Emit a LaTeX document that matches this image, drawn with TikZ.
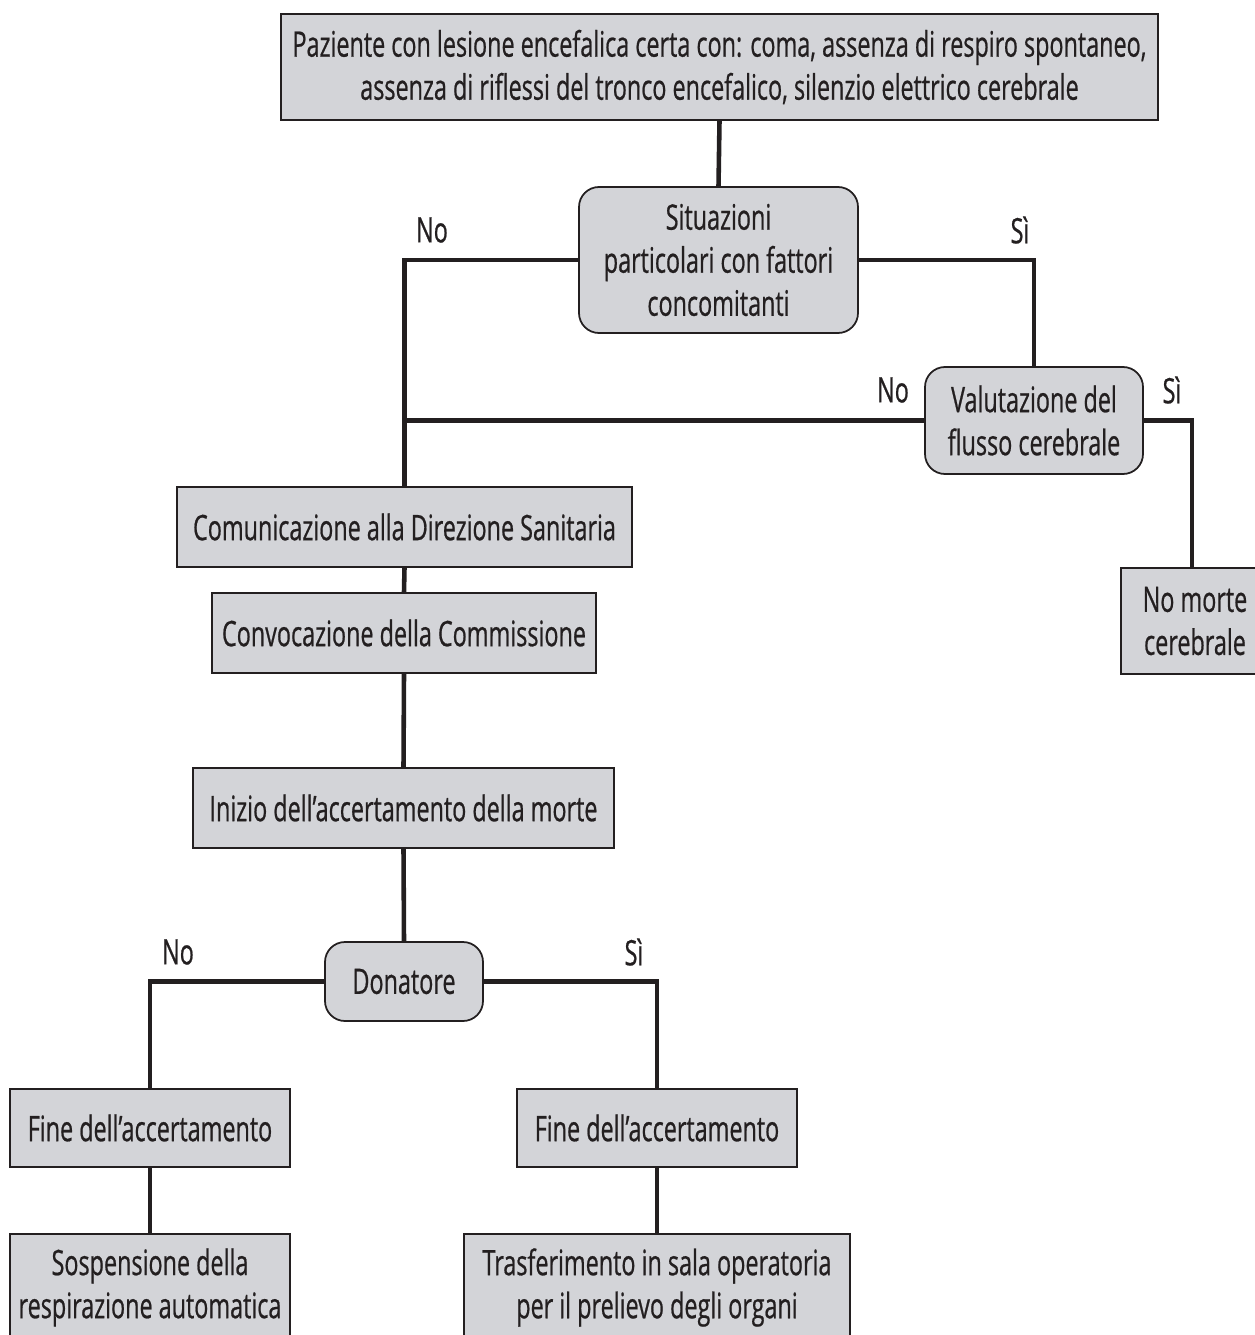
\documentclass[tikz,border=0pt]{standalone}
\usepackage{fontspec}
\setmainfont{Open Sans}[FakeStretch=0.665, FakeBold=0.6]
\usetikzlibrary{positioning}

\definecolor{boxgrey}{RGB}{211,212,216}
\definecolor{inkgrey}{RGB}{35,31,32}

\tikzset{
  box/.style={draw=inkgrey, line width=1pt, fill=boxgrey, align=center, inner sep=0pt, text=inkgrey},
  roundbox/.style={box, rounded corners=0.4cm},
  link/.style={line width=2.6pt, inkgrey},
  answer/.style={inner sep=0pt, text=inkgrey},
}

\begin{document}
\begin{tikzpicture}[font=\fontsize{20}{24.5}\selectfont]
\useasboundingbox (0,0) rectangle (25.08,-26.70);
% boxes
\node[box, minimum width=17.54cm, minimum height=2.12cm] (paz) at (14.39,-1.34)
  {Paziente con lesione encefalica certa con: coma, assenza di respiro spontaneo,\\assenza di riflessi del tronco encefalico, silenzio elettrico cerebrale};
\node[roundbox, minimum width=5.58cm, minimum height=2.92cm] (sit) at (14.37,-5.2)
  {Situazioni\\particolari con fattori\\concomitanti};
\node[roundbox, minimum width=4.36cm, minimum height=2.14cm] (val) at (20.68,-8.41)
  {Valutazione del\\flusso cerebrale};
\node[box, minimum width=2.96cm, minimum height=2.12cm] (nom) at (23.9,-12.42)
  {No morte\\cerebrale};
\node[box, minimum width=9.1cm, minimum height=1.6cm] (com) at (8.09,-10.54)
  {Comunicazione alla Direzione Sanitaria};
\node[box, minimum width=7.68cm, minimum height=1.6cm] (conv) at (8.08,-12.66)
  {Convocazione della Commissione};
\node[box, minimum width=8.42cm, minimum height=1.6cm] (ini) at (8.07,-16.16)
  {Inizio dell’accertamento della morte};
\node[roundbox, minimum width=3.16cm, minimum height=1.58cm] (don) at (8.08,-19.63)
  {Donatore};
\node[box, minimum width=5.6cm, minimum height=1.56cm] (finno) at (3.0,-22.56)
  {Fine dell’accertamento};
\node[box, minimum width=5.6cm, minimum height=1.56cm] (finsi) at (13.14,-22.56)
  {Fine dell’accertamento};
\node[box, minimum width=5.6cm, minimum height=2.14cm] (sosp) at (3.0,-25.75)
  {Sospensione della\\respirazione automatica};
\node[box, minimum width=7.72cm, minimum height=2.14cm] (tras) at (13.14,-25.75)
  {Trasferimento in sala operatoria\\per il prelievo degli organi};

% connectors
\draw[link] (paz.south) -- (sit.north);
\draw[link] (sit.west) -| (com.north);
\draw[link] (sit.east) -| (val.north);
\draw[link] (val.west) -- (val.west -| com.north);
\draw[link] (val.east) -| ([xshift=-0.06cm]nom.north);
\draw[link] (com.south) -- (conv.north);
\draw[link] (conv.south) -- (ini.north);
\draw[link] (ini.south) -- (don.north);
\draw[link] (don.west) -| (finno.north);
\draw[link] (don.east) -| (finsi.north);
\draw[link] (finno.south) -- (sosp.north);
\draw[link] (finsi.south) -- (tras.north);

% answers
\node[answer] (sitno) at (8.64,-4.6) {No};
\node[answer] (sitsi) at (20.4,-4.6) {Sì};
\node[answer] (valno) at (17.86,-7.8) {No};
\node[answer] (valsi) at (23.44,-7.8) {Sì};
\node[answer] (donno) at (3.56,-19.04) {No};
\node[answer] (donsi) at (12.68,-19.04) {Sì};
\end{tikzpicture}
\end{document}
